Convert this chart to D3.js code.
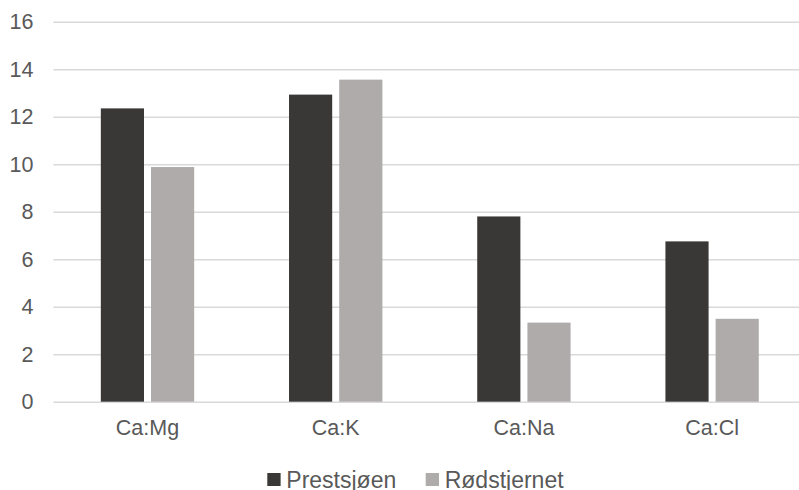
<!DOCTYPE html>
<html>
<head>
<meta charset="utf-8">
<script src="https://cdn.jsdelivr.net/npm/d3@7"></script>
<style>
  html, body { margin: 0; padding: 0; background: #fff; }
  svg { display: block; font-family: "Liberation Sans", Arial, sans-serif; }
</style>
</head>
<body>
<svg id="chart" width="799" height="490"></svg>
<script>
// Ion ratios for the two lakes
const categories = ["Ca:Mg", "Ca:K", "Ca:Na", "Ca:Cl"];
const seriesNames = ["Prestsjøen", "Rødstjernet"];
const prestsjoen = [12.35, 12.93, 7.8, 6.75];
const rodstjernet = [9.88, 13.56, 3.33, 3.49];
const yTicks = [0, 2, 4, 6, 8, 10, 12, 14, 16];
const colors = ["#3a3836", "#aeabaa"];

const series = [prestsjoen, rodstjernet];
const W = 799, H = 490;
const svg = d3.select("#chart");

const plotLeft = 53.4, plotRight = 806.2;
const y = d3.scaleLinear().domain([0, 16]).range([401.7, 21.7]);
const x0 = d3.scaleBand().domain(categories).range([plotLeft, plotRight])
  .paddingInner(0.504).paddingOuter(0.252);
const x1 = d3.scaleBand().domain(seriesNames).range([0, x0.bandwidth()]).paddingInner(0.14);

// gridlines
const yAxis = d3.axisLeft(y).tickValues(yTicks).tickSize(-(plotRight - plotLeft)).tickPadding(20);
const gy = svg.append("g").attr("transform", `translate(${plotLeft},0)`).call(yAxis);
gy.select(".domain").remove();
gy.selectAll(".tick line").attr("stroke", "#d9d9d9").attr("stroke-width", 1.4);
gy.selectAll(".tick text").attr("fill", "#595959").attr("font-size", 21.5);

// bars
const groups = svg.append("g").selectAll("g")
  .data(categories).join("g")
  .attr("transform", d => `translate(${x0(d)},0)`);
groups.selectAll("rect")
  .data((c, i) => seriesNames.map((s, j) => ({ s, v: series[j][i], j })))
  .join("rect")
  .attr("x", d => x1(d.s))
  .attr("width", x1.bandwidth())
  .attr("y", d => y(d.v))
  .attr("height", d => y(0) - y(d.v))
  .attr("fill", d => colors[d.j]);

// category axis
const xAxis = d3.axisBottom(x0).tickSize(0).tickPadding(18);
const gx = svg.append("g").attr("transform", `translate(0,${y(0)})`).call(xAxis);
gx.select(".domain").remove();
gx.selectAll(".tick text").attr("fill", "#595959").attr("font-size", 21.5);

// legend
const legendX = [267.3, 425.7];
const lg = svg.append("g").selectAll("g").data(seriesNames).join("g")
  .attr("transform", (d, i) => `translate(${legendX[i]},473)`);
lg.append("rect").attr("width", 13.3).attr("height", 13).attr("fill", (d, i) => colors[i]);
lg.append("text").attr("x", 19).attr("y", 6.5).attr("dy", "0.35em")
  .attr("fill", "#595959").attr("font-size", 23).text(d => d);
</script>
</body>
</html>
